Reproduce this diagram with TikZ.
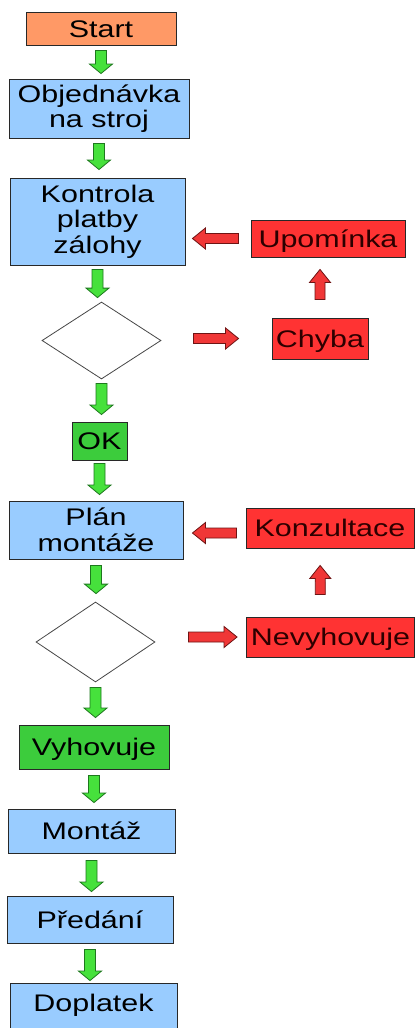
\documentclass[tikz,border=0pt]{standalone}
\usepackage{fontspec}
\setmainfont[FakeStretch=1.27]{Liberation Sans}
\usetikzlibrary{shapes.geometric,calc}

\definecolor{boxblue}{RGB}{153,204,255}
\definecolor{boxorange}{RGB}{255,153,102}
\definecolor{boxred}{RGB}{255,51,51}
\definecolor{boxgreen}{RGB}{60,204,60}
\definecolor{boxline}{RGB}{40,40,40}
\definecolor{redtext}{RGB}{45,0,0}
\definecolor{arrowgreen}{RGB}{70,225,60}
\definecolor{arrowgreenline}{RGB}{30,120,30}
\definecolor{arrowred}{RGB}{240,55,55}
\definecolor{arrowredline}{RGB}{110,20,20}
\definecolor{diamondline}{RGB}{70,70,70}

\newcommand\boxfont{\fontsize{24}{25.5}\selectfont}

% Outlined block arrow between two points.
% #1 look, #2 from, #3 to, #4 gap at the tail, #5 gap at the tip
\newcommand\blockarrow[5][]{%
  \begin{scope}[#1]
    \path #2 coordinate (baP) #3 coordinate (baQ);
    \coordinate (baA) at ($(baP)!#4!(baQ)$);
    \coordinate (baB) at ($(baQ)!#5!(baP)$);
    \coordinate (baM) at ($(baB)!\baHeadLen!(baA)$);
    \path[#1, line join=miter]
      ($(baA)!\baShaft!90:(baB)$) -- ($(baM)!\baShaft!90:(baB)$)
      -- ($(baM)!\baHead!90:(baB)$) -- (baB)
      -- ($(baM)!\baHead!-90:(baB)$) -- ($(baM)!\baShaft!-90:(baB)$)
      -- ($(baA)!\baShaft!-90:(baB)$) -- cycle;
  \end{scope}}

\tikzset{
  box/.style={rectangle, draw=boxline, line width=0.9pt, inner sep=0pt,
    align=center, font=\boxfont},
  oneline/.style={text height=18pt, text depth=1pt},
  stepbox/.style={box, fill=boxblue},
  startbox/.style={box, oneline, fill=boxorange},
  errbox/.style={box, oneline, fill=boxred, text=redtext},
  okbox/.style={box, oneline, fill=boxgreen},
  decision/.style={diamond, draw=diamondline, line width=0.8pt, fill=white,
    inner sep=0pt},
  garrow/.style={draw=arrowgreenline, fill=arrowgreen, line width=0.8pt,
    /utils/exec={\def\baShaft{5.5pt}\def\baHead{11.5pt}\def\baHeadLen{9.5pt}}},
  rarrow/.style={draw=arrowredline, fill=arrowred, line width=0.8pt,
    /utils/exec={\def\baShaft{5pt}\def\baHead{10.5pt}\def\baHeadLen{13pt}}},
}

\begin{document}
\begin{tikzpicture}[x=1pt,y=-1pt]
\useasboundingbox (0,0) rectangle (415,1028);
\fill[white] (0,0) rectangle (415,1028);
\clip (0,0) rectangle (415,1028);

% main column
\node[startbox, minimum width=150pt, minimum height=33pt] (start) at (101,28.5) {Start};
\node[stepbox, minimum width=180pt, minimum height=59pt] (obj) at (99,108.5) {Objednávka\\na stroj};
\node[stepbox, minimum width=175pt, minimum height=87pt] (kon) at (97.5,221.5) {Kontrola\\platby\\zálohy};
\node[decision, minimum width=119pt, minimum height=77pt] (d1) at (101.5,340.5) {};
\node[okbox, minimum width=55pt, minimum height=38pt] (ok) at (99.5,441) {OK};
\node[stepbox, minimum width=174pt, minimum height=58pt] (plan) at (96,530) {Plán\\montáže};
\node[decision, minimum width=119pt, minimum height=80pt] (d2) at (95.5,642) {};
\node[okbox, minimum width=150pt, minimum height=44pt] (vyh) at (94,747) {Vyhovuje};
\node[stepbox, oneline, minimum width=167pt, minimum height=44pt] (mon) at (91.5,831) {Montáž};
\node[stepbox, oneline, minimum width=166pt, minimum height=47pt] (pre) at (90,919.5) {Předání};
\node[stepbox, text height=18pt, text depth=18pt, minimum width=167pt, minimum height=56pt] (dop) at (93.5,1011) {Doplatek};

% side loops
\node[errbox, minimum width=154pt, minimum height=37pt] (upo) at (328,238.5) {Upomínka};
\node[errbox, minimum width=96pt, minimum height=41pt] (chyba) at (320,338.5) {Chyba};
\node[errbox, minimum width=168pt, minimum height=40pt] (konz) at (330,528) {Konzultace};
\node[errbox, minimum width=168pt, minimum height=40pt] (nev) at (330.5,637) {Nevyhovuje};

% green flow arrows
\blockarrow[garrow]{(start.south)}{(start.south |- obj.north)}{5pt}{5pt}
\blockarrow[garrow]{(obj.south)}{(obj.south |- kon.north)}{5pt}{8pt}
\blockarrow[garrow]{(kon.south)}{(kon.south |- d1.north)}{4pt}{4pt}
\blockarrow[garrow]{(d1.south)}{(d1.south |- ok.north)}{4pt}{7pt}
\blockarrow[garrow]{(ok.south)}{(ok.south |- plan.north)}{3pt}{6pt}
\blockarrow[garrow]{(plan.south)}{(plan.south |- d2.north)}{6pt}{8pt}
\blockarrow[garrow]{(d2.south)}{(d2.south |- vyh.north)}{5pt}{7pt}
\blockarrow[garrow]{(vyh.south)}{(vyh.south |- mon.north)}{6pt}{6pt}
\blockarrow[garrow]{(mon.south)}{(mon.south |- pre.north)}{7pt}{4pt}
\blockarrow[garrow]{(pre.south)}{(pre.south |- dop.north)}{6pt}{2pt}

% red loop arrows
\blockarrow[rarrow]{(chyba.west -| d1.east)}{(chyba.west)}{32pt}{33pt}
\blockarrow[rarrow]{(chyba.north)}{(chyba.north |- upo.south)}{18pt}{12pt}
\blockarrow[rarrow]{(upo.west)}{(upo.west -| kon.east)}{12pt}{7pt}
\blockarrow[rarrow]{(nev.west -| d2.east)}{(nev.west)}{33pt}{9pt}
\blockarrow[rarrow]{($(nev.north)+(-10,0)$)}{($(konz.south)+(-10,0)$)}{22pt}{17pt}
\blockarrow[rarrow]{($(konz.west)+(0,5)$)}{($(konz.west -| plan.east)+(0,5)$)}{9pt}{9pt}
\end{tikzpicture}
\end{document}
